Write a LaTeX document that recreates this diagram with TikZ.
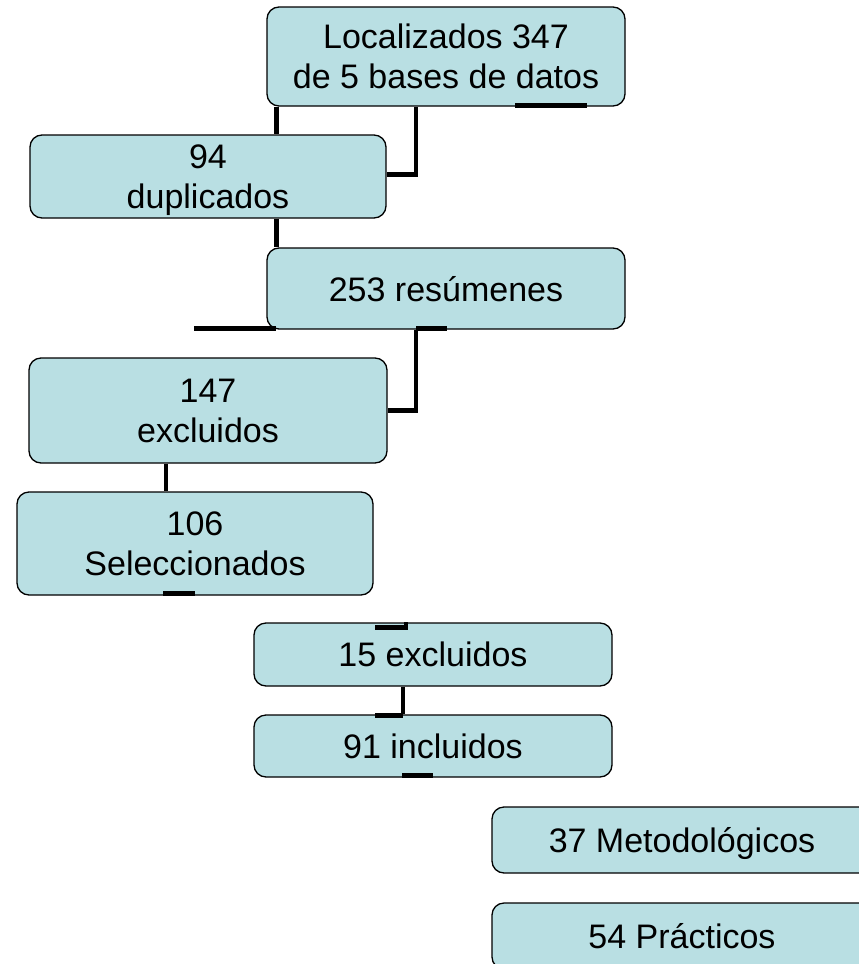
\documentclass[tikz,border=0pt]{standalone}
\usepackage{fontspec}
\setmainfont{Liberation Sans}
\usetikzlibrary{backgrounds}
\definecolor{boxfill}{RGB}{185,223,227}
\tikzset{
  box/.style={draw=black, line width=1.3pt, fill=boxfill, rounded corners=12pt,
    align=center, inner sep=0pt, text depth=0pt, font=\fontsize{34}{40}\selectfont},
  conn/.style={line width=4.5pt, draw=black}
}
\begin{document}
\begin{tikzpicture}[x=1pt,y=-1pt]
\useasboundingbox (0,0) rectangle (859,964);
\clip (0,0) rectangle (859,964);
\node[box, minimum width=358pt, minimum height=99pt] (b1) at (446,56.5) {Localizados 347\\de 5 bases de datos};
\node[box, minimum width=356pt, minimum height=83pt] (b94) at (208,176.5) {94\\duplicados};
\node[box, minimum width=358pt, minimum height=81pt] (b253) at (446,288.5) {253 resúmenes};
\node[box, minimum width=358pt, minimum height=105pt] (b147) at (208,410.5) {147\\excluidos};
\node[box, minimum width=356pt, minimum height=103pt] (b106) at (195,543.5) {106\\Seleccionados};
\node[box, minimum width=358pt, minimum height=63pt] (b15) at (433,654.5) {15 excluidos};
\node[box, minimum width=358pt, minimum height=62pt] (b91) at (433,746) {91 incluidos};
\node[box, minimum width=380pt, minimum height=66pt] (b37) at (682,840) {37 Metodológicos};
\node[box, minimum width=380pt, minimum height=66pt] (b54) at (682,936) {54 Prácticos};
\begin{scope}[on background layer]
  % Localizados -> 94 duplicados
  \draw[conn] ([xshift=10pt]b1.south west) -- ([xshift=10pt]b1.south west |- b94.north);
  \draw[conn] ([xshift=-30pt]b1.south) |- ([yshift=2pt]b94.east);
  % 94 -> 253
  \draw[conn] ([xshift=247pt]b94.south west) -- ([xshift=247pt]b94.south west |- b253.north);
  % 253 -> 147
  \draw[conn] ([xshift=-30pt]b253.south) |- (b147.east);
  % 147 -> 106
  \draw[conn] ([xshift=-42pt]b147.south) -- ([xshift=-42pt]b147.south |- b106.north);
  % 15 -> 91
  \draw[conn] ([xshift=-30pt]b15.south) -- ([xshift=-30pt]b15.south |- b91.north);
\end{scope}
% stubs
\coordinate (s1a) at ([xshift=69pt,yshift=1pt]b1.south);
\coordinate (s1b) at ([xshift=141pt,yshift=1pt]b1.south);
\draw[conn] (s1a) -- (s1b);
\coordinate (s2a) at ([xshift=-72pt,yshift=1pt]b253.south west);
\draw[conn] (s2a) -- ([xshift=10pt,yshift=1pt]b253.south west);
\draw[conn] ([xshift=-30pt,yshift=1pt]b253.south) -- ([xshift=1pt,yshift=1pt]b253.south);
\draw[conn] ([xshift=-32pt,yshift=2pt]b106.south) -- ([xshift=0pt,yshift=2pt]b106.south);
\coordinate (s3a) at ([xshift=-58pt,yshift=-5pt]b15.north);
\draw[conn] (s3a) -- ([xshift=-27pt,yshift=-5pt]b15.north) -- ([xshift=-27pt]b15.north);
\draw[conn] ([xshift=-58pt,yshift=-1pt]b91.north) -- ([xshift=-30pt,yshift=-1pt]b91.north);
\draw[conn] ([xshift=-31pt,yshift=2pt]b91.south) -- ([xshift=0pt,yshift=2pt]b91.south);
\end{tikzpicture}
\end{document}
